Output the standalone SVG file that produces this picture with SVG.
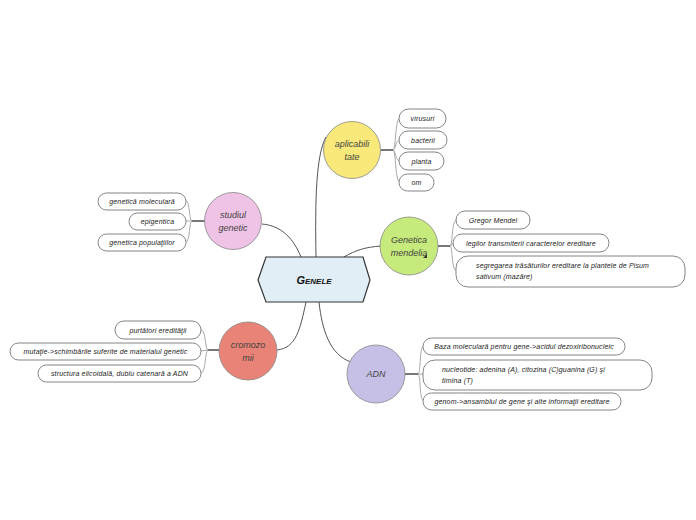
<svg xmlns="http://www.w3.org/2000/svg" width="696" height="520" viewBox="0 0 696 520">
<style>
.bg{fill:#ffffff}
.main{fill:none;stroke:#555;stroke-width:1}
.stem{fill:none;stroke:#777;stroke-width:2}
.br{fill:none;stroke:#aaa;stroke-width:1}
.leaf{fill:#fff;stroke:#666;stroke-width:0.8}
.lt{font-family:"Liberation Sans",Arial,sans-serif;font-style:italic;font-size:7px;letter-spacing:0.15px;fill:#222}
.ct{font-family:"Liberation Sans",Arial,sans-serif;font-style:italic;font-size:9px;fill:#444}
.circ{stroke:#888;stroke-width:0.8}
</style>
<rect class="bg" x="0" y="0" width="696" height="520"/>
<g id="connectors">
<path class="main" d="M316,257 C315,200 316,155 326,137"/>
<path class="main" d="M301,257 C294,240 283,226 262,224"/>
<path class="main" d="M344,257 C356,250 366,247 381,246"/>
<path class="main" d="M306,302 C300,330 296,348 277,350"/>
<path class="main" d="M319,302 C322,330 330,355 351,362"/>
<path class="stem" d="M381,150 L393,150"/>
<path class="br" d="M393,150 C396,150 395,118 400,118 M393,150 C396,150 395,140 400,140 M393,150 C396,150 395,161 400,161 M393,150 C396,150 395,182 400,182"/>
<path class="stem" d="M205,221 L192,221"/>
<path class="br" d="M192,221 C189,221 190,201 186,201 M192,221 L186,221 M192,221 C189,221 190,242 186,242"/>
<path class="stem" d="M438,246 L450,246"/>
<path class="br" d="M450,246 C453,246 451,220 457,220 M450,246 C453,246 451,243 454,243 M450,246 C453,246 451,271 457,271"/>
<path class="stem" d="M219,350 L208,350"/>
<path class="br" d="M208,350 C205,350 206,330 201,330 M208,350 L201,351 M208,350 C205,350 206,373 201,373"/>
<path class="stem" d="M405,374 L418,374"/>
<path class="br" d="M418,374 C421,374 419,346 424,346 M418,374 L424,374 M418,374 C421,374 419,401 424,401"/>
</g>
<g id="center">
<polygon points="258,280 266,257 363,257 370,280 363,302 266,302" fill="#e1eef5" stroke="#333" stroke-width="1.2"/>
<text x="314" y="284" text-anchor="middle" font-family="Liberation Sans,Arial,sans-serif" font-style="italic" font-weight="bold" font-size="11" font-variant="small-caps" fill="#111">Genele</text>
</g>
<g id="aplicabilitate">
<circle class="circ" cx="352" cy="150" r="28.5" fill="#f9e97a"/>
<text class="ct" x="352" y="147" text-anchor="middle">aplicabili</text>
<text class="ct" x="352" y="160" text-anchor="middle">tate</text>
</g>
<g id="virusuri"><rect class="leaf" x="399" y="109" width="47" height="19" rx="9.5"/><text class="lt" x="422.5" y="120.5" text-anchor="middle">virusuri</text></g>
<g id="bacterii"><rect class="leaf" x="399" y="131" width="48" height="18" rx="9"/><text class="lt" x="423" y="142.5" text-anchor="middle">bacterii</text></g>
<g id="planta"><rect class="leaf" x="399" y="152" width="45" height="18" rx="9"/><text class="lt" x="421.5" y="163.5" text-anchor="middle">planta</text></g>
<g id="om"><rect class="leaf" x="399" y="174" width="35" height="17" rx="8.5"/><text class="lt" x="416.5" y="185" text-anchor="middle">om</text></g>
<g id="studiul">
<circle class="circ" cx="233" cy="221" r="28.5" fill="#efc3e6"/>
<text class="ct" x="233" y="218" text-anchor="middle">studiul</text>
<text class="ct" x="233" y="231" text-anchor="middle">genetic</text>
</g>
<g id="genetica-moleculara"><rect class="leaf" x="98" y="193" width="88" height="17" rx="8.5"/><text class="lt" x="142" y="204" text-anchor="middle">genetică moleculară</text></g>
<g id="epigentica"><rect class="leaf" x="129" y="213" width="57" height="17" rx="8.5"/><text class="lt" x="157.5" y="224" text-anchor="middle">epigentica</text></g>
<g id="genetica-populatiilor"><rect class="leaf" x="98" y="234" width="88" height="17" rx="8.5"/><text class="lt" x="142" y="245" text-anchor="middle">genetica populaţiilor</text></g>
<g id="mendelia">
<circle class="circ" cx="409" cy="246" r="29" fill="#c6ea7b"/>
<text class="ct" x="409" y="243" text-anchor="middle">Genetica</text>
<text class="ct" x="409" y="256" text-anchor="middle">mendelia</text>
<polygon points="427,254 427,258 423,258" fill="#333"/>
</g>
<g id="gregor"><rect class="leaf" x="456" y="211" width="74" height="18" rx="9"/><text class="lt" x="493" y="222.5" text-anchor="middle">Gregor Mendel</text></g>
<g id="legilor"><rect class="leaf" x="453" y="234" width="156" height="18" rx="9"/><text class="lt" x="531" y="245.5" text-anchor="middle">legilor transmiterii caracterelor ereditare</text></g>
<g id="segregarea"><rect class="leaf" x="456" y="256" width="229" height="31" rx="12"/><text class="lt" x="476" y="267.5">segregarea trăsăturilor ereditare la plantele de Pisum</text><text class="lt" x="476" y="279">sativum (mazăre)</text></g>
<g id="cromozomi">
<circle class="circ" cx="248" cy="351" r="29" fill="#e98377"/>
<text class="ct" x="248" y="348" text-anchor="middle">cromozo</text>
<text class="ct" x="248" y="361" text-anchor="middle">mii</text>
</g>
<g id="purtatori"><rect class="leaf" x="115" y="321" width="86" height="18" rx="9"/><text class="lt" x="158" y="332.5" text-anchor="middle">purtători eredităţii</text></g>
<g id="mutatie"><rect class="leaf" x="10" y="343" width="191" height="17" rx="8.5"/><text class="lt" x="105.5" y="354" text-anchor="middle">mutaţie-&gt;schimbările suferite de materialul genetic</text></g>
<g id="structura"><rect class="leaf" x="38" y="365" width="163" height="17" rx="8.5"/><text class="lt" x="119.5" y="376" text-anchor="middle">structura elicoidală, dublu catenară a ADN</text></g>
<g id="adn">
<circle class="circ" cx="376" cy="374" r="29" fill="#c6bfe6"/>
<text class="ct" x="376" y="377" text-anchor="middle">ADN</text>
</g>
<g id="baza"><rect class="leaf" x="423" y="338" width="202" height="17" rx="8.5"/><text class="lt" x="524" y="349" text-anchor="middle">Baza moleculară pentru gene-&gt;acidul dezoxiribonucleic</text></g>
<g id="nucleotide"><rect class="leaf" x="423" y="360" width="229" height="30" rx="12"/><text class="lt" x="442" y="371.5">nucleotide: adenina (A), citozina (C)guanina (G) şi</text><text class="lt" x="442" y="383">timina (T)</text></g>
<g id="genom"><rect class="leaf" x="423" y="393" width="198" height="17" rx="8.5"/><text class="lt" x="522" y="404" text-anchor="middle">genom-&gt;ansamblul de gene şi alte informaţii ereditare</text></g>
</svg>
